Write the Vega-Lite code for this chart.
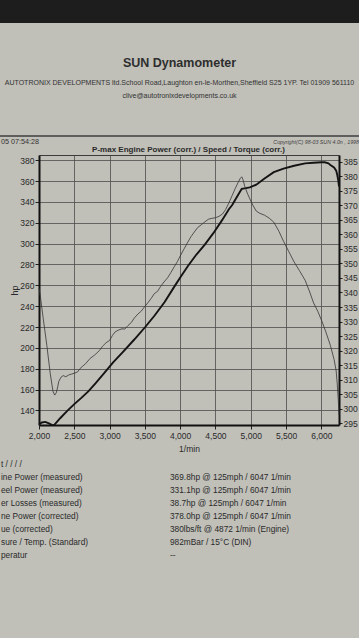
{
  "$schema": "https://vega.github.io/schema/vega-lite/v6.json",
  "background": "#c0bfb8",
  "padding": 0,
  "spacing": 0,
  "config": {
    "view": {"stroke": null},
    "font": "Liberation Sans",
    "axis": {"labelFont": "Liberation Sans", "titleFont": "Liberation Sans"},
    "title": {"font": "Liberation Sans", "subtitleFont": "Liberation Sans"},
    "text": {"font": "Liberation Sans"}
  },
  "datasets": {
    "power": [
      {"rpm": 2000, "hp": 126.5}, {"rpm": 2040, "hp": 128.4}, {"rpm": 2090, "hp": 129}, {"rpm": 2140, "hp": 127.6},
      {"rpm": 2180, "hp": 126.2}, {"rpm": 2200, "hp": 125.6}, {"rpm": 2220, "hp": 126.4}, {"rpm": 2260, "hp": 129.5},
      {"rpm": 2300, "hp": 132.5}, {"rpm": 2400, "hp": 139.5}, {"rpm": 2500, "hp": 146}, {"rpm": 2600, "hp": 152},
      {"rpm": 2702, "hp": 158.5}, {"rpm": 2800, "hp": 166}, {"rpm": 2920, "hp": 175.5}, {"rpm": 3050, "hp": 186},
      {"rpm": 3187, "hp": 196}, {"rpm": 3350, "hp": 208}, {"rpm": 3505, "hp": 220}, {"rpm": 3638, "hp": 231},
      {"rpm": 3780, "hp": 244}, {"rpm": 3915, "hp": 258.5}, {"rpm": 4010, "hp": 268.5}, {"rpm": 4110, "hp": 278.5},
      {"rpm": 4230, "hp": 289.5}, {"rpm": 4349, "hp": 299}, {"rpm": 4470, "hp": 310}, {"rpm": 4594, "hp": 322.5},
      {"rpm": 4690, "hp": 333}, {"rpm": 4737, "hp": 337}, {"rpm": 4780, "hp": 342}, {"rpm": 4820, "hp": 346.7},
      {"rpm": 4849, "hp": 350}, {"rpm": 4872, "hp": 352.5}, {"rpm": 4913, "hp": 353}, {"rpm": 4987, "hp": 354},
      {"rpm": 5078, "hp": 356.5}, {"rpm": 5195, "hp": 362.5}, {"rpm": 5326, "hp": 368.5}, {"rpm": 5464, "hp": 372},
      {"rpm": 5614, "hp": 374.7}, {"rpm": 5770, "hp": 377}, {"rpm": 5890, "hp": 377.5}, {"rpm": 6001, "hp": 378},
      {"rpm": 6047, "hp": 378}, {"rpm": 6100, "hp": 377}, {"rpm": 6128, "hp": 375.5}, {"rpm": 6180, "hp": 373},
      {"rpm": 6210, "hp": 370}, {"rpm": 6225, "hp": 366}, {"rpm": 6240, "hp": 360.5}, {"rpm": 6250, "hp": 355}
    ],
    "torque": [
      {"rpm": 2000, "torque": 341.5}, {"rpm": 2020, "torque": 338.5}, {"rpm": 2060, "torque": 331}, {"rpm": 2111, "torque": 321.8},
      {"rpm": 2160, "torque": 312}, {"rpm": 2198, "torque": 306}, {"rpm": 2223, "torque": 304.7}, {"rpm": 2245, "torque": 305.5},
      {"rpm": 2265, "torque": 307.5}, {"rpm": 2279, "torque": 309.3}, {"rpm": 2310, "torque": 310.8}, {"rpm": 2343, "torque": 311.4},
      {"rpm": 2380, "torque": 311}, {"rpm": 2420, "torque": 311.6}, {"rpm": 2458, "torque": 311.9}, {"rpm": 2500, "torque": 312.2},
      {"rpm": 2548, "torque": 312.7}, {"rpm": 2580, "torque": 313.8}, {"rpm": 2612, "torque": 314.5}, {"rpm": 2660, "torque": 315.5},
      {"rpm": 2724, "torque": 317.3}, {"rpm": 2790, "torque": 318.5}, {"rpm": 2859, "torque": 320.1}, {"rpm": 2900, "torque": 321.5},
      {"rpm": 2950, "torque": 322.7}, {"rpm": 3000, "torque": 323.5}, {"rpm": 3040, "torque": 325.2}, {"rpm": 3077, "torque": 326.4},
      {"rpm": 3120, "torque": 327}, {"rpm": 3175, "torque": 327.5}, {"rpm": 3215, "torque": 327.4}, {"rpm": 3260, "torque": 328.6},
      {"rpm": 3309, "torque": 329.7}, {"rpm": 3350, "torque": 331.2}, {"rpm": 3402, "torque": 332.6}, {"rpm": 3450, "torque": 333.6},
      {"rpm": 3490, "torque": 334.9}, {"rpm": 3540, "torque": 336.4}, {"rpm": 3590, "torque": 338}, {"rpm": 3634, "torque": 339.6},
      {"rpm": 3680, "torque": 340.4}, {"rpm": 3721, "torque": 342}, {"rpm": 3770, "torque": 343.6}, {"rpm": 3820, "torque": 345},
      {"rpm": 3867, "torque": 346.8}, {"rpm": 3920, "torque": 349}, {"rpm": 3960, "torque": 350.6}, {"rpm": 4008, "torque": 352.9},
      {"rpm": 4060, "torque": 355.2}, {"rpm": 4110, "torque": 357.4}, {"rpm": 4153, "torque": 359.2}, {"rpm": 4200, "torque": 360.8},
      {"rpm": 4250, "torque": 362.4}, {"rpm": 4299, "torque": 363.3}, {"rpm": 4350, "torque": 364.3}, {"rpm": 4400, "torque": 365.2},
      {"rpm": 4449, "torque": 365.5}, {"rpm": 4500, "torque": 365.7}, {"rpm": 4550, "torque": 366.2}, {"rpm": 4600, "torque": 367},
      {"rpm": 4643, "torque": 368.5}, {"rpm": 4690, "torque": 370.8}, {"rpm": 4737, "torque": 373.4}, {"rpm": 4780, "torque": 375.8},
      {"rpm": 4820, "torque": 377.8}, {"rpm": 4850, "torque": 379.2}, {"rpm": 4872, "torque": 379.8}, {"rpm": 4890, "torque": 378.8},
      {"rpm": 4913, "torque": 376.7}, {"rpm": 4950, "torque": 374.2}, {"rpm": 4987, "torque": 372.2}, {"rpm": 5030, "torque": 370},
      {"rpm": 5078, "torque": 368}, {"rpm": 5130, "torque": 367.2}, {"rpm": 5195, "torque": 366.6}, {"rpm": 5260, "torque": 365.6},
      {"rpm": 5326, "torque": 364.2}, {"rpm": 5400, "torque": 361}, {"rpm": 5464, "torque": 357.6}, {"rpm": 5540, "torque": 354},
      {"rpm": 5614, "torque": 350.5}, {"rpm": 5690, "torque": 347.5}, {"rpm": 5770, "torque": 344.2}, {"rpm": 5830, "torque": 340.5},
      {"rpm": 5890, "torque": 336.4}, {"rpm": 5950, "torque": 333.5}, {"rpm": 6001, "torque": 330.5}, {"rpm": 6060, "torque": 326.7},
      {"rpm": 6128, "torque": 321.8}, {"rpm": 6180, "torque": 317}, {"rpm": 6210, "torque": 313}, {"rpm": 6225, "torque": 308.5},
      {"rpm": 6240, "torque": 303}, {"rpm": 6250, "torque": 298}
    ],
    "table": [
      {"row": 0, "label": "t / / / /", "value": ""},
      {"row": 1, "label": "ine Power (measured)", "value": "369.8hp @ 125mph / 6047 1/min"},
      {"row": 2, "label": "eel Power (measured)", "value": "331.1hp @ 125mph / 6047 1/min"},
      {"row": 3, "label": "er Losses (measured)", "value": "38.7hp @ 125mph / 6047 1/min"},
      {"row": 4, "label": "ne Power (corrected)", "value": "378.0hp @ 125mph / 6047 1/min"},
      {"row": 5, "label": "ue (corrected)", "value": "380lbs/ft @ 4872 1/min (Engine)"},
      {"row": 6, "label": "sure / Temp. (Standard)", "value": "982mBar / 15°C (DIN)"},
      {"row": 7, "label": "peratur", "value": "--"}
    ]
  },
  "vconcat": [
    {
      "width": 359, "height": 23,
      "view": {"fill": "#1d1d1d", "stroke": null},
      "data": {"values": []},
      "mark": {"type": "point"}
    },
    {
      "width": 359, "height": 112,
      "view": {"stroke": null},
      "title": {
        "text": "SUN Dynamometer",
        "subtitle": ["AUTOTRONIX DEVELOPMENTS ltd.School Road,Laughton en-le-Morthen,Sheffield S25 1YP. Tel 01909 561110", "clive@autotronixdevelopments.co.uk"],
        "orient": "top", "anchor": "middle", "frame": "group", "offset": -76,
        "fontSize": 12.5, "fontWeight": "bold", "color": "#2e2e2e",
        "subtitleFontSize": 7, "subtitleColor": "#333333", "subtitlePadding": 10, "subtitleLineHeight": 13
      },
      "data": {"values": []},
      "mark": {"type": "point"}
    },
    {
      "width": 359, "height": 2,
      "view": {"fill": "#5e5e5e", "stroke": null},
      "data": {"values": []},
      "mark": {"type": "point"}
    },
    {
      "width": 359, "height": 9,
      "layer": [
        {
          "data": {"values": [{"side": "left", "text": "05 07:54:28"}]},
          "mark": {"type": "text", "align": "left", "fontSize": 7.2, "color": "#333333"},
          "encoding": {
            "x": {"field": "side", "type": "nominal", "scale": {"type": "point", "domain": ["left", "right"], "range": [1, 359], "padding": 0}, "axis": null},
            "text": {"field": "text"}
          }
        },
        {
          "data": {"values": [{"side": "right", "text": "Copyright(C) 98-03 SUN 4.0n , 1998"}]},
          "mark": {"type": "text", "align": "right", "fontSize": 5.3, "fontStyle": "italic", "color": "#444444"},
          "encoding": {
            "x": {"field": "side", "type": "nominal", "scale": {"type": "point", "domain": ["left", "right"], "range": [1, 359], "padding": 0}, "axis": null},
            "text": {"field": "text"}
          }
        }
      ]
    },
    {
      "width": 359, "height": 270,
      "title": {"text": "P-max Engine Power  (corr.) / Speed / Torque (corr.)", "fontSize": 8, "fontWeight": "bold", "color": "#2a2a2a", "offset": 1, "anchor": "middle", "frame": "group", "dx": 9},
      "view": {"stroke": null},
      "layer": [
        {
          "data": {"name": "power"},
          "mark": {"type": "line", "color": "#141414", "strokeWidth": 1.9, "clip": true},
          "encoding": {
            "x": {"field": "rpm", "type": "quantitative", "scale": {"domain": [2000, 6250], "range": [39, 339], "nice": false, "zero": false},
              "axis": {"values": [2000, 2500, 3000, 3500, 4000, 4500, 5000, 5500, 6000], "format": ",d", "title": "1/min",
                "grid": true, "gridColor": "#4c4c4c", "gridWidth": 0.8, "domainColor": "#111111", "domainWidth": 2,
                "tickColor": "#222222", "tickSize": 4, "labelFontSize": 8.5, "labelPadding": 2, "labelColor": "#2a2a2a",
                "labelFlush": false, "labelOverlap": false, "titleFontSize": 8.5, "titleFontWeight": "normal", "titleColor": "#2a2a2a", "titlePadding": 5}},
            "y": {"field": "hp", "type": "quantitative", "scale": {"domain": [126, 385], "nice": false, "zero": false},
              "axis": {"orient": "left", "offset": -39, "values": [140, 160, 180, 200, 220, 240, 260, 280, 300, 320, 340, 360, 380], "title": "hp",
                "grid": true, "gridColor": "#4c4c4c", "gridWidth": 0.8, "domainColor": "#111111", "domainWidth": 2,
                "tickColor": "#222222", "tickSize": 4, "labelFontSize": 8.5, "labelPadding": 1, "labelColor": "#2a2a2a",
                "minExtent": 14, "maxExtent": 20, "titleX": -20, "titleFontSize": 9, "titleFontWeight": "normal", "titleColor": "#2a2a2a",
                "labelFlush": false, "labelOverlap": false}}
          }
        },
        {
          "data": {"name": "torque"},
          "mark": {"type": "line", "color": "#353535", "strokeWidth": 0.8, "clip": true},
          "encoding": {
            "x": {"field": "rpm", "type": "quantitative", "scale": {"domain": [2000, 6250], "range": [39, 339], "nice": false, "zero": false},
              "axis": {"orient": "top", "labels": false, "ticks": false, "grid": false, "title": null, "domainColor": "#3c3c3c", "domainWidth": 1, "minExtent": 0, "maxExtent": 0}},
            "y": {"field": "torque", "type": "quantitative", "scale": {"domain": [294.4, 387.3], "nice": false, "zero": false},
              "axis": {"orient": "right", "offset": -20, "values": [295, 300, 305, 310, 315, 320, 325, 330, 335, 340, 345, 350, 355, 360, 365, 370, 375, 380, 385], "title": null,
                "grid": false, "domainColor": "#111111", "domainWidth": 2, "tickColor": "#222222", "tickSize": 3,
                "labelFontSize": 8.5, "labelPadding": 1, "labelColor": "#2a2a2a", "labelFlush": false, "labelOverlap": false}}
          }
        }
      ],
      "resolve": {"scale": {"y": "independent"}, "axis": {"x": "independent"}}
    },
    {
      "width": 359, "height": 185,
      "data": {"name": "table"},
      "transform": [{"fold": ["label", "value"], "as": ["col", "text"]}],
      "mark": {"type": "text", "align": "left", "fontSize": 8.3, "color": "#2a2a2a"},
      "encoding": {
        "x": {"field": "col", "type": "nominal", "scale": {"type": "point", "domain": ["label", "value"], "range": [1, 170], "padding": 0}, "axis": null},
        "y": {"field": "row", "type": "ordinal", "scale": {"type": "point", "range": [12, 103], "padding": 0}, "axis": null},
        "text": {"field": "text"}
      }
    }
  ]
}
